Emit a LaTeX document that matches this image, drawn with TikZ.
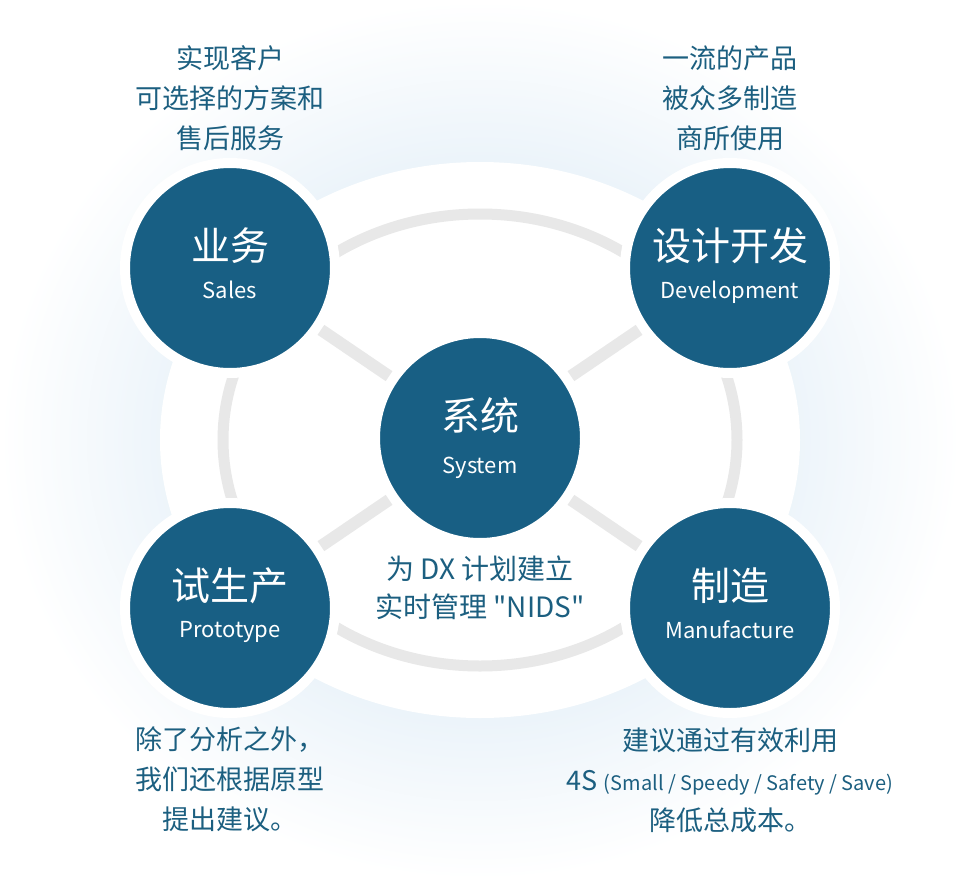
\documentclass[tikz,border=0pt]{standalone}
\usepackage{fontspec}
\setmainfont{Noto Sans CJK SC}[Ligatures=TeXOff]
\usetikzlibrary{positioning}
\definecolor{navy}{HTML}{185F84}
\definecolor{ink}{HTML}{1C5F80}
\definecolor{haze}{HTML}{ECF4FA}
\definecolor{ringgray}{HTML}{E8E8E8}
\pgfdeclareradialshading{glow}{\pgfpoint{0bp}{0bp}}{color(0bp)=(haze); color(16bp)=(haze); color(25bp)=(white)}

\begin{document}
\begin{tikzpicture}[x=1bp, y=-1bp,
  hub/.style={circle, fill=navy, draw=white, line width=10bp, minimum size=210bp, inner sep=0pt},
  head/.style={text=white, inner sep=0pt, font=\fontsize{39bp}{44bp}\selectfont},
  sub/.style={text=white, inner sep=0pt, font=\fontsize{22bp}{26bp}\selectfont},
  note/.style={text=ink, align=center, inner sep=0pt, font=\fontsize{27bp}{40bp}\selectfont},
  spoke/.style={draw=ringgray, line width=12bp}]

\useasboundingbox (0,0) rectangle (960,880);

%---------------------------------------
% Background glow and white field
%---------------------------------------
\shade[shading=glow] (480,440) ellipse [x radius=480, y radius=440];
\fill[white] (480,440) ellipse [x radius=320, y radius=278];

% Grey ring
\draw[ringgray, line width=11bp] (480,440) ellipse [x radius=257, y radius=226];

%---------------------------------------
% Circles
%---------------------------------------
\node[hub] (sys)   at (480,438) {};
\node[hub] (sales) at (230,268) {};
\node[hub] (dev)   at (730,268) {};
\node[hub] (proto) at (230,608) {};
\node[hub] (manu)  at (730,608) {};

% Spokes
\draw[spoke] (sys) -- (sales);
\draw[spoke] (sys) -- (dev);
\draw[spoke] (sys) -- (proto);
\draw[spoke] (sys) -- (manu);

% Circle titles
\node[head] (sysH)   at ([yshift=22bp]sys.center)   {系统};
\node[sub]  (sysS)   at ([yshift=-30bp]sys.center)  {System};
\node[head] (salesH) at ([yshift=22bp]sales.center) {业务};
\node[sub]  (salesS) at ([yshift=-22bp]sales.center) {Sales};
\node[head] (devH)   at ([yshift=22bp]dev.center)   {设计开发};
\node[sub]  (devS)   at ([yshift=-24bp]dev.center)  {Development};
\node[head] (protoH) at ([yshift=22bp]proto.center) {试生产};
\node[sub]  (protoS) at ([yshift=-24bp]proto.center) {Prototype};
\node[head] (manuH)  at ([yshift=22bp]manu.center)  {制造};
\node[sub]  (manuS)  at ([yshift=-22bp]manu.center) {Manufacture};

%---------------------------------------
% Notes
%---------------------------------------
\node[note] (salesN) at (230,98)  {实现客户\\可选择的方案和\\售后服务};
\node[note] (devN)   at (730,98)  {一流的产品\\被众多制造\\商所使用};
\node[note] (protoN) at (230,779) {除了分析之外，\\我们还根据原型\\提出建议。};
\node[note] (manuN)  at (730,780) {建议通过有效利用\\4S {\fontsize{20bp}{24bp}\selectfont (Small / Speedy / Safety / Save)}\\降低总成本。};
\node[note, font=\fontsize{28bp}{38bp}\selectfont] (sysN) at (480,588) {为 DX 计划建立\\实时管理 "NIDS"};

\end{tikzpicture}
\end{document}
